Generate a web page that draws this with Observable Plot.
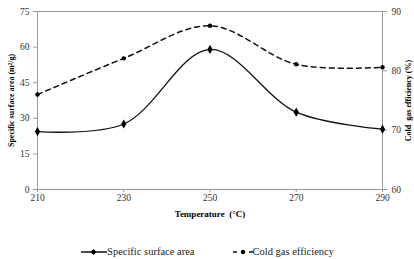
<!DOCTYPE html>
<html>
<head>
<meta charset="utf-8">
<script src="https://cdn.jsdelivr.net/npm/d3@7"></script>
<script src="https://cdn.jsdelivr.net/npm/@observablehq/plot@0.6"></script>
<style>
  body { margin: 0; background: #fff; font-family: "Liberation Serif", "DejaVu Serif", serif; }
  #chart svg { display: block; }
  #legend { display: flex; justify-content: center; gap: 38px; font-size: 10.5px; color: #222; margin-top: 20px; margin-left: 0px; font-family: "Liberation Serif", serif; }
  #legend span { display: inline-flex; align-items: center; gap: 0px; }
</style>
</head>
<body>
<div id="chart"></div>
<div id="legend"></div>
<script>
const temperatures = [210, 230, 250, 270, 290];
const surfaceArea = [24.4, 27.6, 59.0, 32.6, 25.4];
const coldGasEff = [76.0, 82.1, 87.6, 81.1, 80.6];
const leftTicks = [0, 15, 30, 45, 60, 75];
const rightTicks = [60, 70, 80, 90];
const xLabel = "Temperature  (°C)";
const leftLabel = "Specific surface area (m²/g)";
const rightLabel = "Cold  gas efficiency (%)";

const L0 = 0, L1 = 75, R0 = 60, R1 = 90;
const toLeft = v => L0 + (v - R0) / (R1 - R0) * (L1 - L0);
const toRight = v => R0 + (v - L0) / (L1 - L0) * (R1 - R0);

const sa = temperatures.map((t, i) => ({t, v: surfaceArea[i]}));
const cg = temperatures.map((t, i) => ({t, v: toLeft(coldGasEff[i])}));

const labelStyle = {fontWeight: "bold", fill: "#000", fontFamily: "Liberation Serif, serif", textAnchor: "middle"};

const chart = Plot.plot({
  width: 414,
  height: 226,
  marginLeft: 37,
  marginRight: 32,
  marginTop: 11,
  marginBottom: 37,
  style: {fontFamily: "Liberation Serif, serif", fontSize: "9.5px", color: "#333"},
  x: {domain: [210, 290]},
  y: {domain: [L0, L1]},
  marks: [
    Plot.frame({stroke: "#999", strokeWidth: 1}),
    Plot.axisX({ticks: temperatures, tickSize: 3, tickPadding: 2, stroke: "#999", label: null}),
    Plot.axisY({ticks: leftTicks, tickSize: 4, tickPadding: 4, stroke: "#999", label: null}),
    Plot.axisY({anchor: "right", ticks: rightTicks.map(toLeft), tickFormat: d => Math.round(toRight(d)),
      tickSize: 4, tickPadding: 5, stroke: "#999", label: null}),
    Plot.text([xLabel], {frameAnchor: "bottom", dy: 27, text: d => d, fontSize: 9, ...labelStyle}),
    Plot.text([leftLabel], {frameAnchor: "left", rotate: -90, dx: -26, dy: 0, text: d => d, fontSize: 8, ...labelStyle}),
    Plot.text([rightLabel], {frameAnchor: "right", rotate: -90, dx: 26, dy: 0, text: d => d, fontSize: 8, ...labelStyle}),
    Plot.line(cg, {x: "t", y: "v", curve: "catmull-rom", stroke: "#111", strokeWidth: 1.5, strokeDasharray: "5,4"}),
    Plot.line(sa, {x: "t", y: "v", curve: "catmull-rom", stroke: "#111", strokeWidth: 1.3}),
    Plot.dot(cg, {x: "t", y: "v", r: 2.2, fill: "#000", symbol: "circle"}),
    Plot.dot(sa, {x: "t", y: "v", r: 2.8, fill: "#000", symbol: "diamond"})
  ]
});
document.getElementById("chart").appendChild(chart);

const legend = document.getElementById("legend");
legend.innerHTML = `
<span><svg width="27" height="8"><line x1="1" y1="4" x2="27" y2="4" stroke="#111" stroke-width="1.5"/><path d="M13.5,1 L16.5,4 L13.5,7 L10.5,4 Z" fill="#000"/></svg>Specific surface area</span>
<span><svg width="20" height="8"><line x1="0" y1="4" x2="20" y2="4" stroke="#111" stroke-width="1.5" stroke-dasharray="4,4"/><circle cx="10" cy="4" r="2.2" fill="#000"/></svg>Cold gas efficiency</span>`;
</script>
</body>
</html>
